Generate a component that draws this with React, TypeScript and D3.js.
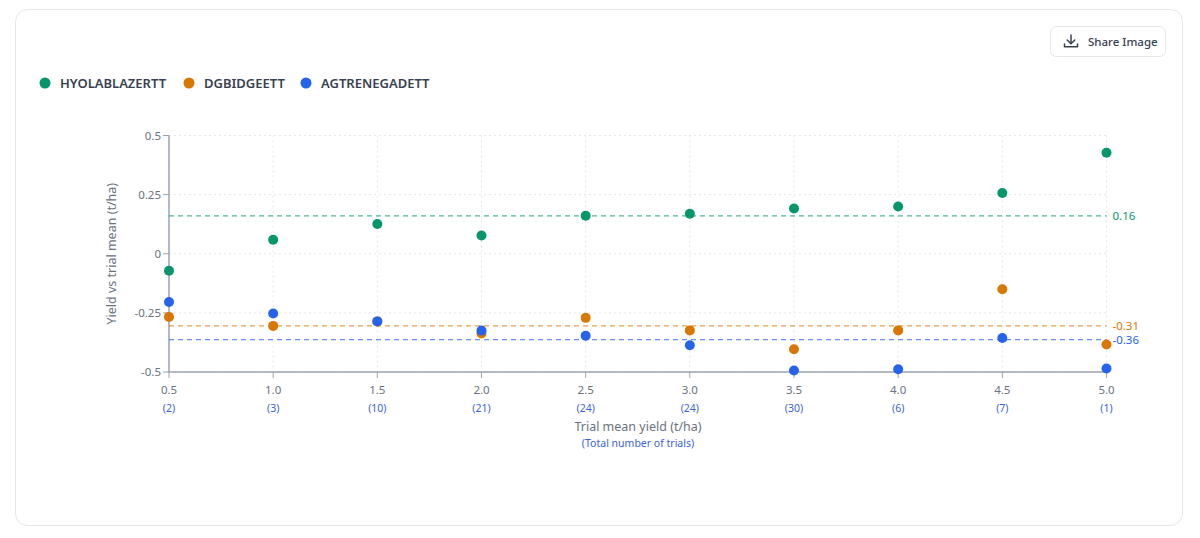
import React, { useEffect } from "react";
import * as d3 from "d3";

const xTicks = [0.5, 1.0, 1.5, 2.0, 2.5, 3.0, 3.5, 4.0, 4.5, 5.0];
const trialCounts = [2, 3, 10, 21, 24, 24, 30, 6, 7, 1];
const yTicks = [0.5, 0.25, 0, -0.25, -0.5];

const seriesNames = ["HYOLABLAZERTT", "DGBIDGEETT", "AGTRENEGADETT"];
const seriesColors = ["#079669", "#d97706", "#2563eb"];
const hyolaValues = [-0.072, 0.059, 0.126, 0.077, 0.161, 0.169, 0.191, 0.2, 0.257, 0.427];
const dgValues = [-0.267, -0.305, -0.286, -0.337, -0.271, -0.324, -0.404, -0.324, -0.15, -0.384];
const agValues = [-0.204, -0.253, -0.286, -0.325, -0.347, -0.387, -0.494, -0.488, -0.356, -0.485];
const meanValues = [0.16, -0.305, -0.363];
const meanLabels = ["0.16", "-0.31", "-0.36"];

const FONT = "'Noto Sans', 'Open Sans', sans-serif";

export default function App() {
  useEffect(() => {
    document.body.style.margin = "0";
  }, []);

  const x = d3.scaleLinear().domain([0.5, 5.0]).range([169, 1106.5]);
  const y = d3.scaleLinear().domain([-0.5, 0.5]).range([372, 135.5]);
  const all = [hyolaValues, dgValues, agValues];

  return (
    <svg width={1200} height={538} style={{ display: "block", fontFamily: FONT }}>
      <rect x={0} y={0} width={1200} height={538} fill="#ffffff" />
      <rect x={15.5} y={9.5} width={1167} height={516} rx={12} fill="#fff" stroke="#e5e7eb" />

      {/* Share button */}
      <g>
        <rect x={1050.5} y={26.5} width={115} height={30} rx={6} fill="#fff" stroke="#e5e7eb" />
        <g stroke="#374151" strokeWidth={1.5} fill="none" strokeLinecap="round" strokeLinejoin="round">
          <path d="M1071 35 v8.5" />
          <path d="M1067.2 40 l3.8 3.8 l3.8 -3.8" />
          <path d="M1064.5 44 v2.8 h13 v-2.8" />
        </g>
        <text x={1088} y={46} fontSize={11.5} fill="#374151" fontWeight={500}>Share Image</text>
      </g>

      {/* Legend */}
      {(() => {
        const pos = [45, 189, 306];
        return seriesNames.map((n, i) => (
          <g key={n}>
            <circle cx={pos[i]} cy={83} r={5.5} fill={seriesColors[i]} />
            <text x={pos[i] + 15} y={87.5} fontSize={13} fontWeight={600} fill="#374151">{n}</text>
          </g>
        ));
      })()}

      {/* Grid */}
      <g stroke="#e5e7eb" strokeDasharray="2,3" strokeWidth={1}>
        {xTicks.map((t) => (
          <line key={"gx" + t} x1={x(t)} x2={x(t)} y1={y(0.5)} y2={y(-0.5)} />
        ))}
        {yTicks.map((t) => (
          <line key={"gy" + t} x1={x(0.5)} x2={x(5.0)} y1={y(t)} y2={y(t)} />
        ))}
      </g>

      {/* Axes */}
      <g stroke="#9ca3af" strokeWidth={1.5}>
        <line x1={x(0.5)} x2={x(0.5)} y1={y(0.5)} y2={y(-0.5)} />
        <line x1={x(0.5)} x2={x(5.0)} y1={y(-0.5)} y2={y(-0.5)} />
        {yTicks.map((t) => (
          <line key={"ty" + t} x1={x(0.5) - 6} x2={x(0.5)} y1={y(t)} y2={y(t)} strokeWidth={1} />
        ))}
        {xTicks.map((t) => (
          <line key={"tx" + t} x1={x(t)} x2={x(t)} y1={y(-0.5)} y2={y(-0.5) + 6} strokeWidth={1} />
        ))}
      </g>
      {yTicks.map((t) => (
        <text key={"ly" + t} x={x(0.5) - 8} y={y(t) + 4} fontSize={11.5} fill="#6b7280" textAnchor="end">
          {t === 0 ? "0" : String(t)}
        </text>
      ))}
      {xTicks.map((t, i) => (
        <g key={"lx" + t}>
          <text x={x(t)} y={394} fontSize={11.5} fill="#6b7280" textAnchor="middle">{t.toFixed(1)}</text>
          <text x={x(t)} y={412} fontSize={10.5} fill="#3b5fd9" textAnchor="middle">({trialCounts[i]})</text>
        </g>
      ))}
      <text x={638} y={431} fontSize={12.5} fill="#6b7280" textAnchor="middle">Trial mean yield (t/ha)</text>
      <text x={638} y={447} fontSize={10.5} fill="#3b5fd9" textAnchor="middle">(Total number of trials)</text>
      <text transform={`translate(116,${y(0)}) rotate(-90)`} fontSize={12.5} fill="#6b7280" textAnchor="middle">
        Yield vs trial mean (t/ha)
      </text>

      {/* Mean lines */}
      {meanValues.map((m, i) => (
        <g key={"m" + i}>
          <line x1={x(0.5)} x2={x(5.0)} y1={y(m)} y2={y(m)} stroke={seriesColors[i]} strokeOpacity={0.7}
            strokeWidth={1.4} strokeDasharray="5,4" />
          <text x={x(5.0) + 6} y={y(m) + 4} fontSize={11.5} fill={seriesColors[i]}>{meanLabels[i]}</text>
        </g>
      ))}

      {/* Points */}
      {all.map((vals, si) =>
        vals.map((v, i) => (
          <circle key={si + "-" + i} cx={x(xTicks[i])} cy={y(v)} r={5} fill={seriesColors[si]} />
        ))
      )}
    </svg>
  );
}
